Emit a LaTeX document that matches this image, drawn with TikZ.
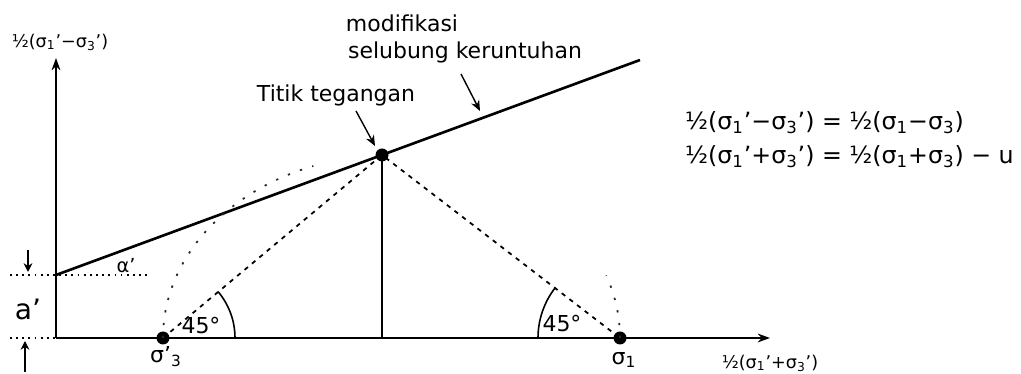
\documentclass[tikz,border=0pt]{standalone}
\usepackage{fontspec}
\setmainfont{DejaVu Sans}
\usetikzlibrary{arrows.meta}
\newcommand{\sgm}[1]{σ\textsubscript{#1}}
\begin{document}
\begin{tikzpicture}[x=0.02cm,y=-0.02cm,
  font=\fontsize{12.5}{14}\selectfont,
  axis/.style={line width=0.9pt,-{Stealth[length=7pt,width=5pt]}},
  fline/.style={line width=1.5pt},
  dashline/.style={line width=1pt,dash pattern=on 2.5pt off 3pt},
  dotline/.style={line width=0.7pt,dash pattern=on 1pt off 2.5pt},
  mohr/.style={line width=1pt,dash pattern=on 1.3pt off 6pt,black!85},
  dotnode/.style={circle,fill=black,inner sep=0pt,minimum size=2.6mm},
  lblarrow/.style={line width=0.8pt,-{Stealth[length=6pt,width=5pt]}},
  dimarrow/.style={line width=0.8pt,-{Stealth[length=5pt,width=5pt]}},
  small/.style={font=\fontsize{10}{12}\selectfont},
  txt/.style={inner sep=1pt}]
\useasboundingbox (0,0) rectangle (1021,374);

% axes
\coordinate (O) at (56,338);
\coordinate (ytop) at (56,58);
\coordinate (xend) at (770,338);
\draw[axis] (O) -- (ytop);
\draw[axis] (O) -- (xend);
\node[txt,small] (ylab) at (60,42) {½(\sgm{1}'−\sgm{3}')};
\node[txt,small] (xlab) at (770,363) {½(\sgm{1}'+\sgm{3}')};

% points
\node[dotnode] (s3) at (163,338) {};
\node[dotnode] (s1) at (620,338) {};
\node[dotnode] (P) at (382,155) {};
\coordinate (A) at (56,275);
\coordinate (Fend) at (640,60);
\coordinate (Pfoot) at (382,338);

% failure envelope
\draw[fline] (A) -- (Fend);
% vertical from stress point
\draw[line width=0.9pt] (P.center) -- (Pfoot);
% 45 degree lines
\draw[dashline] (s3.center) -- (P.center) -- (s1.center);

% mohr circle fragments
\draw[mohr] (s3.center) arc[start angle=-180,end angle=-110,x radius=228.5,y radius=183];
\draw[mohr] (s1.center) arc[start angle=0,end angle=-20,x radius=228.5,y radius=183];

% dotted horizontals
\coordinate (d1) at (10,275);
\coordinate (d2) at (147,275);
\coordinate (d3) at (10,338);
\draw[dotline] (d1) -- (d2);
\draw[dotline] (d3) -- (O);

% angle arcs
\draw[line width=0.9pt] (s3.center) ++(72,0) arc[start angle=0,end angle=-40,radius=72];
\draw[line width=0.9pt] (s1.center) ++(-82,0) arc[start angle=-180,end angle=-142,radius=82];
\node[txt] (a45l) at (201,326) {45°};
\node[txt] (a45r) at (562,324) {45°};

% a' dimension
\coordinate (t1) at (28,250);
\coordinate (t2) at (28,272);
\coordinate (b1) at (25,372);
\coordinate (b2) at (25,341);
\draw[dimarrow] (t1) -- (t2);
\draw[dimarrow] (b1) -- (b2);
\node[txt,font=\fontsize{16}{18}\selectfont] (alab) at (28,309) {a'};
\node[txt,font=\fontsize{11}{13}\selectfont] (alpha) at (126,266) {α'};

% point labels
\node[txt] (ls3) at (166,357) {σ'\textsubscript{3}};
\node[txt] (ls1) at (624,360) {\sgm{1}};

% annotations
\node[txt] (tt) at (336,95) {Titik tegangan};
\coordinate (tta) at (356,111);
\coordinate (ttb) at (375,146);
\draw[lblarrow] (tta) -- (ttb);
\node[txt] (mod) at (402,23) {modifikasi};
\node[txt] (sel) at (465,52) {selubung keruntuhan};
\coordinate (sa) at (461,74);
\coordinate (sb) at (480,111);
\draw[lblarrow] (sa) -- (sb);

% equations
\node[txt,anchor=west,font=\fontsize{13.5}{15}\selectfont] (eq1) at (683,123) {½(\sgm{1}'−\sgm{3}') = ½(\sgm{1}−\sgm{3})};
\node[txt,anchor=west,font=\fontsize{13.5}{15}\selectfont] (eq2) at (683,157) {½(\sgm{1}'+\sgm{3}') = ½(\sgm{1}+\sgm{3}) − u};
\end{tikzpicture}
\end{document}
